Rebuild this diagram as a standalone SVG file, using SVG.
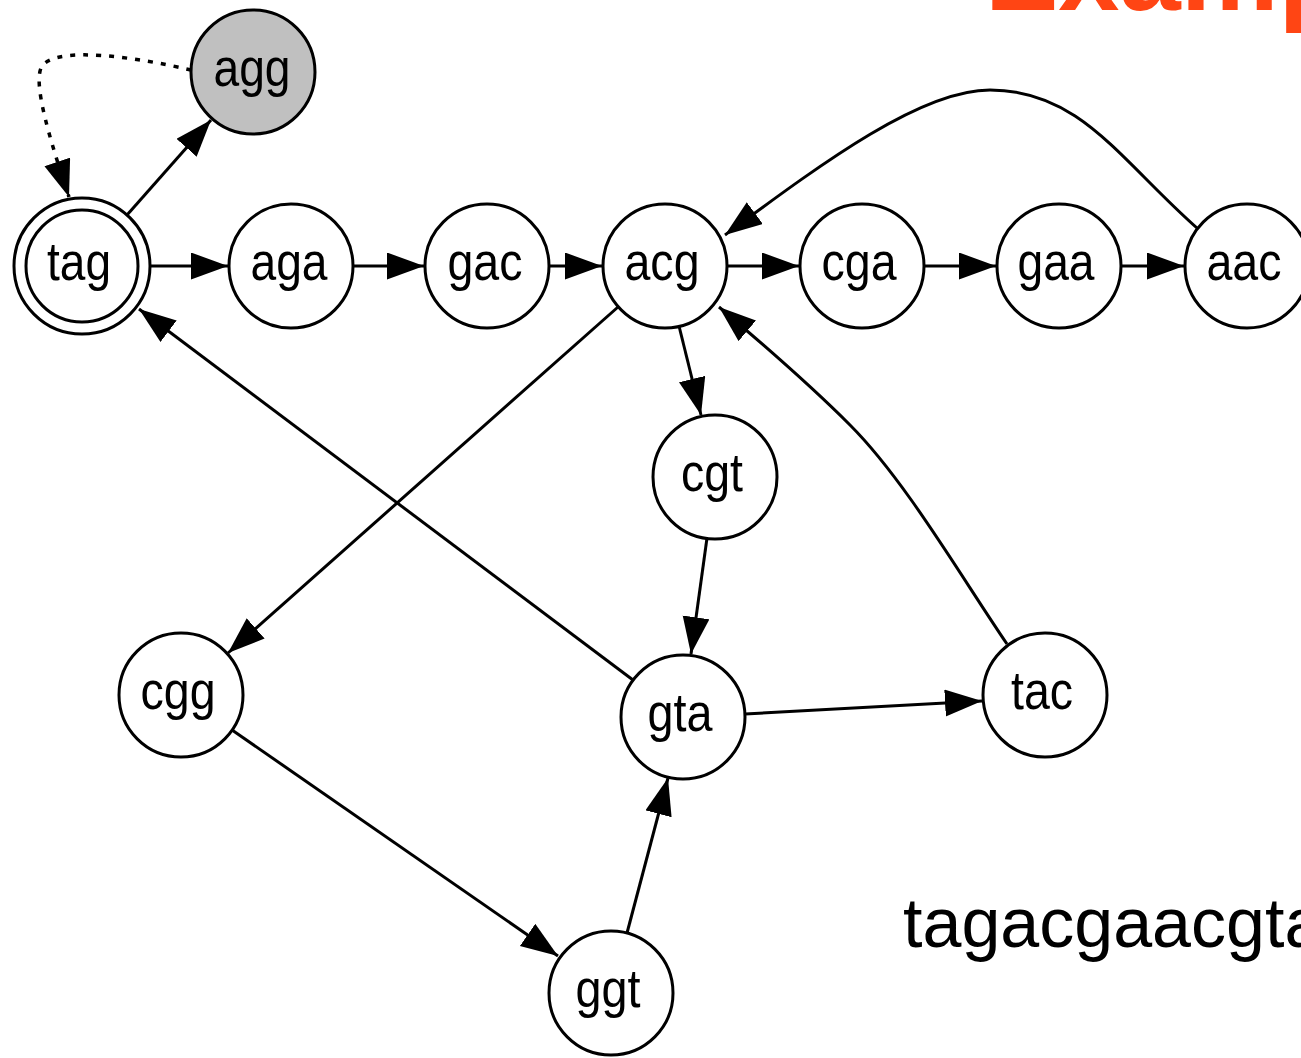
<svg xmlns="http://www.w3.org/2000/svg" width="1301" height="1058" viewBox="0 0 1301 1058">
<style>
.n{fill:#ffffff;stroke:#000000;stroke-width:3}
.g{fill:#c0c0c0;stroke:#000000;stroke-width:3}
.l{font-family:"Liberation Sans",Arial,Helvetica,sans-serif;font-size:53px;fill:#000000;text-anchor:middle}
.e{fill:none;stroke:#000000;stroke-width:3;marker-end:url(#ah)}
.d{fill:none;stroke:#000000;stroke-width:3.5;stroke-dasharray:5 8;marker-end:url(#ah)}
</style>
<defs>
<marker id="ah" markerUnits="userSpaceOnUse" markerWidth="40" markerHeight="30" refX="37" refY="13.5" orient="auto">
<path d="M0,0 L37,13.5 L0,27 Z" fill="#000000" stroke="none"/>
</marker>
</defs>
<rect width="1301" height="1058" fill="#ffffff"/>
<text x="985" y="10" font-family="Liberation Sans,Arial,sans-serif" font-weight="bold" font-size="110" fill="#ff4514">Example</text>
<g id="edges">
<line class="e" x1="127" y1="215" x2="211" y2="120"/>
<path class="d" d="M191,70 C140,58 58,45 42,66 C32,82 50,140 69,197"/>
<line class="e" x1="151" y1="266" x2="228" y2="266"/>
<line class="e" x1="353" y1="266" x2="424" y2="266"/>
<line class="e" x1="549" y1="266" x2="602" y2="266"/>
<line class="e" x1="727" y1="266" x2="799" y2="266"/>
<line class="e" x1="924" y1="266" x2="996" y2="266"/>
<line class="e" x1="1121" y1="266" x2="1184" y2="266"/>
<path class="e" d="M1197,228 C1120,160 1080,90 990,90 C920,90 820,165 725,235"/>
<line class="e" x1="679" y1="326" x2="701" y2="415"/>
<line class="e" x1="707" y1="538" x2="691" y2="654"/>
<line class="e" x1="618" y1="307" x2="228" y2="653"/>
<line class="e" x1="633" y1="680" x2="139" y2="309"/>
<line class="e" x1="232" y1="730" x2="558" y2="956"/>
<line class="e" x1="627" y1="933" x2="668" y2="778"/>
<line class="e" x1="745" y1="714" x2="982" y2="701"/>
<path class="e" d="M1007,644 C960,575 905,480 850,425 C810,385 770,350 719,307"/>
</g>
<g id="agg"><circle class="g" cx="253" cy="72" r="62"/><text class="l" x="252" y="86" textLength="77" lengthAdjust="spacingAndGlyphs">agg</text></g>
<g id="tag"><circle class="n" cx="82" cy="266" r="68"/><circle class="n" cx="82" cy="266" r="56"/><text class="l" x="79" y="280" textLength="64" lengthAdjust="spacingAndGlyphs">tag</text></g>
<g id="aga"><circle class="n" cx="291" cy="266" r="62"/><text class="l" x="289" y="280" textLength="77" lengthAdjust="spacingAndGlyphs">aga</text></g>
<g id="gac"><circle class="n" cx="487" cy="266" r="62"/><text class="l" x="485" y="280" textLength="75" lengthAdjust="spacingAndGlyphs">gac</text></g>
<g id="acg"><circle class="n" cx="665" cy="266" r="62"/><text class="l" x="662" y="280" textLength="75" lengthAdjust="spacingAndGlyphs">acg</text></g>
<g id="cga"><circle class="n" cx="862" cy="266" r="62"/><text class="l" x="859" y="280" textLength="75" lengthAdjust="spacingAndGlyphs">cga</text></g>
<g id="gaa"><circle class="n" cx="1059" cy="266" r="62"/><text class="l" x="1056" y="280" textLength="77" lengthAdjust="spacingAndGlyphs">gaa</text></g>
<g id="aac"><circle class="n" cx="1247" cy="266" r="62"/><text class="l" x="1244" y="280" textLength="75" lengthAdjust="spacingAndGlyphs">aac</text></g>
<g id="cgt"><circle class="n" cx="715" cy="477" r="62"/><text class="l" x="712" y="491" textLength="62" lengthAdjust="spacingAndGlyphs">cgt</text></g>
<g id="cgg"><circle class="n" cx="181" cy="695" r="62"/><text class="l" x="178" y="709" textLength="75" lengthAdjust="spacingAndGlyphs">cgg</text></g>
<g id="gta"><circle class="n" cx="683" cy="717" r="62"/><text class="l" x="680" y="731" textLength="65" lengthAdjust="spacingAndGlyphs">gta</text></g>
<g id="tac"><circle class="n" cx="1045" cy="695" r="62"/><text class="l" x="1042" y="709" textLength="62" lengthAdjust="spacingAndGlyphs">tac</text></g>
<g id="ggt"><circle class="n" cx="611" cy="993" r="62"/><text class="l" x="608" y="1007" textLength="65" lengthAdjust="spacingAndGlyphs">ggt</text></g>
<text x="903" y="947" font-family="Liberation Sans,Arial,sans-serif" font-size="70" fill="#000000">tagacgaacgta</text>
</svg>
